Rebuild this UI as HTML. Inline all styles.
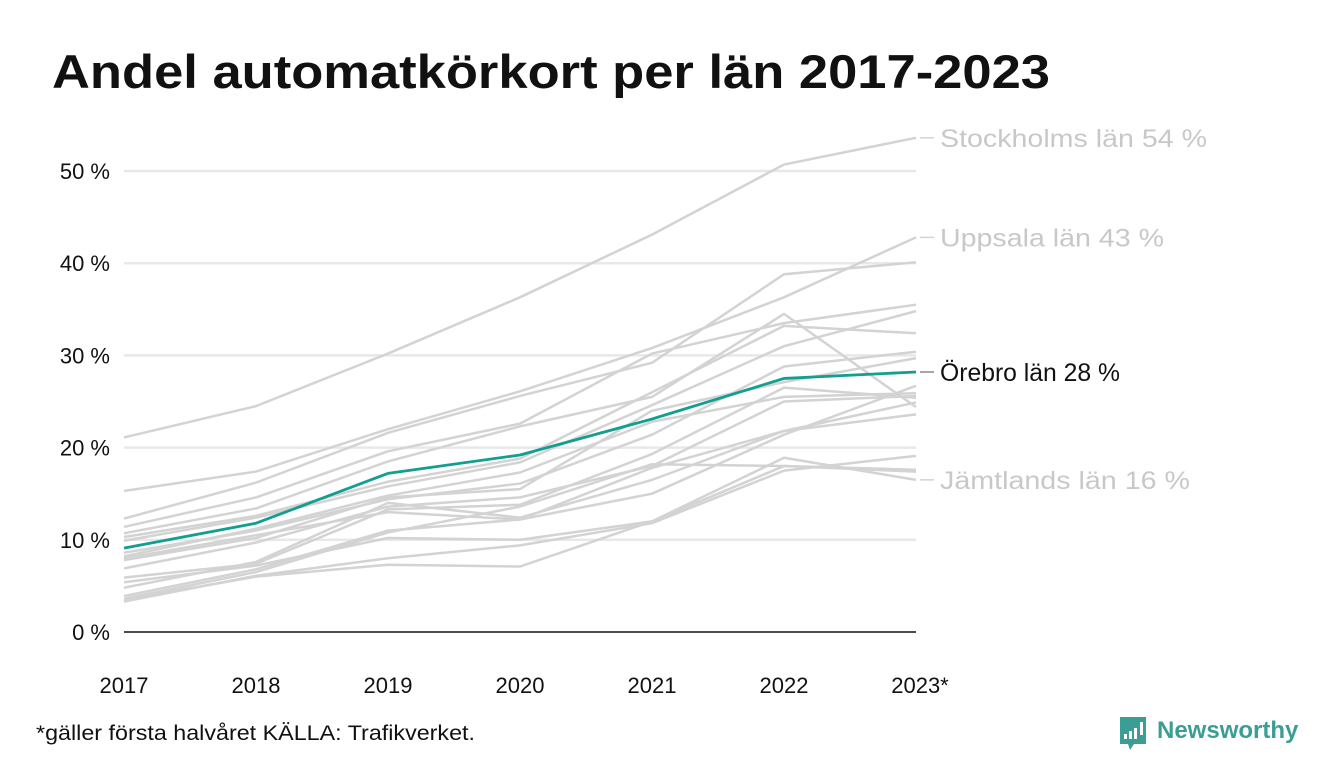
<!DOCTYPE html>
<html><head><meta charset="utf-8"><style>
body{margin:0;background:#fff;width:1340px;height:780px;overflow:hidden;font-family:"Liberation Sans",sans-serif}
svg{display:block}
</style></head><body>
<svg id="chart" width="1340" height="780">
<text x="52" y="88" font-size="47" font-weight="bold" fill="#111" textLength="998" lengthAdjust="spacingAndGlyphs">Andel automatkörkort per län 2017-2023</text>
<g id="grid"></g><g id="lines"></g><g id="labels"></g>
<text x="36" y="740" font-size="21" fill="#111" textLength="439" lengthAdjust="spacingAndGlyphs">*gäller första halvåret KÄLLA: Trafikverket.</text>
<g>
<path d="M1120 717 h26 v27 h-12 l-4 6 l-2 -6 h-8 z" fill="#3a9e94"/>
<rect x="1124" y="734" width="3" height="5" fill="#fff"/><rect x="1129" y="731" width="3" height="8" fill="#fff"/><rect x="1134" y="728" width="3" height="11" fill="#fff"/><rect x="1140" y="722" width="3" height="13" fill="#fff"/>
<text x="1157" y="738" font-size="24" font-weight="bold" fill="#3a9e94">Newsworthy</text>
</g>
</svg>
<script>
const years=["2017","2018","2019","2020","2021","2022","2023*"];
const yTicks=[0,10,20,30,40,50];
const teal=[9.1,11.8,17.2,19.2,23.1,27.5,28.2];
const stockholm=[21.1,24.5,30.2,36.3,43.1,50.7,53.6];
const uppsala=[15.3,17.4,22.0,26.1,30.8,36.3,42.8];
const jamtland=[3.5,6.0,7.3,7.1,12.0,18.9,16.5];
const others=[
[12.3,16.2,21.6,25.6,29.2,38.8,40.1],
[11.4,14.6,19.6,22.6,30.2,33.5,35.5],
[10.7,13.4,18.5,22.3,25.5,34.5,24.4],
[10.3,12.6,16.3,18.8,26.0,33.2,32.4],
[9.9,12.4,15.8,18.4,24.6,31.0,34.8],
[8.6,11.0,14.4,16.1,21.4,28.8,30.4],
[7.8,10.2,14.6,15.5,24.0,27.1,29.7],
[8.2,11.2,14.8,17.3,22.8,25.5,25.9],
[6.9,9.7,13.6,14.6,18.0,25.0,25.6],
[5.9,7.4,13.3,13.8,19.3,26.5,25.4],
[4.8,7.6,14.0,12.4,16.5,21.8,24.9],
[3.9,6.8,11.0,12.2,17.8,21.8,23.6],
[8.0,10.5,13.0,12.2,15.0,21.4,26.7],
[5.4,7.2,10.2,10.0,12.0,18.0,17.6],
[3.3,6.1,8.0,9.4,11.8,17.5,19.1],
[3.6,6.5,10.8,13.6,18.2,18.0,17.4]
];
const ns="http://www.w3.org/2000/svg";
const x0=124,dx=132,y0=632,k=9.22;
const X=i=>x0+i*dx, Y=v=>y0-v*k;
const grid=document.getElementById('grid'),lines=document.getElementById('lines'),labs=document.getElementById('labels');
function mk(t,a,p){const e=document.createElementNS(ns,t);for(const q in a)e.setAttribute(q,a[q]);p.appendChild(e);return e;}
yTicks.forEach(v=>{
 const l=mk('line',{x1:124,x2:916,y1:Y(v),y2:Y(v),stroke:v?'#e8e8ec':'#111','stroke-width':v?2.5:1.5},grid);
 
 
 const t=mk('text',{x:110,y:Y(v)+8,'font-size':22,'text-anchor':'end',fill:'#111'},grid);t.textContent=v+' %';
 
 
});
years.forEach((y,i)=>{
 const t=mk('text',{x:X(i)+(i==6?4:0),y:693,'font-size':22,'text-anchor':'middle',fill:'#111'},grid);t.textContent=y;
 
 
});
function line(d,c,w,name){
 const p=mk('polyline',{points:d.map((v,i)=>X(i)+','+Y(v)).join(' '),fill:'none',stroke:c,'stroke-width':w,'stroke-linejoin':'round'},lines);
 
 
}
others.forEach(d=>line(d,'#d3d3d3',2.5,'county-line'));
line(jamtland,'#d3d3d3',2.5,'jamtland-line');
line(uppsala,'#d3d3d3',2.5,'uppsala-line');
line(stockholm,'#d3d3d3',2.5,'stockholm-line');
line(teal,'#139e92',2.8,'orebro-line');
function lab(v,txt,c,name,len){
 mk('line',{x1:920,x2:934,y1:Y(v),y2:Y(v),stroke:c==='#111'?'#888':'#d3d3d3','stroke-width':1.5},labs);
 const t=mk('text',{x:940,y:Y(v)+9,'font-size':25,fill:c,textLength:len,lengthAdjust:'spacingAndGlyphs'},labs);t.textContent=txt;
 
 
}
lab(stockholm[6],'Stockholms län 54 %','#c8c8c8','stockholm-label',267);
lab(uppsala[6],'Uppsala län 43 %','#c8c8c8','uppsala-label',224);
lab(teal[6],'Örebro län 28 %','#111','orebro-label',180);
lab(jamtland[6],'Jämtlands län 16 %','#c8c8c8','jamtland-label',250);
</script>
</body></html>
